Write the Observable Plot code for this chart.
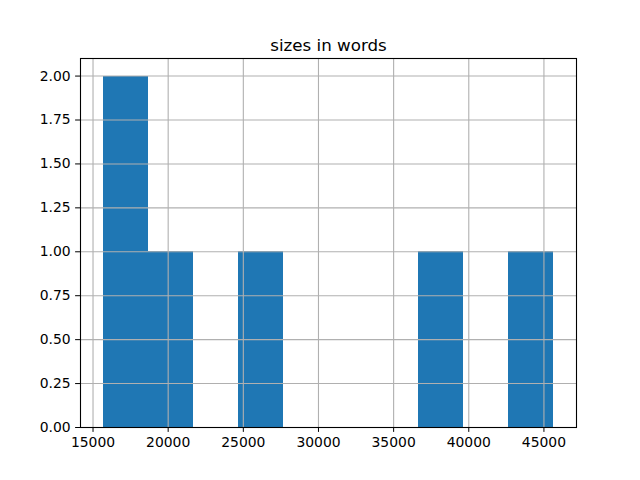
<!DOCTYPE html>
<html>
<head>
<meta charset="utf-8">
<script src="https://cdn.jsdelivr.net/npm/d3@7"></script>
<script src="https://cdn.jsdelivr.net/npm/@observablehq/plot@0.6"></script>
<style>
  body { margin: 0; background: #fff; }
  svg { font-family: "DejaVu Sans", sans-serif; }
</style>
</head>
<body>
<div id="chart"></div>
<script>
// Histogram bins (10 equal bins between min and max word count)
const binStarts = [15667, 18667, 21667, 24667, 27667, 30667, 33667, 36667, 39667, 42667];
const binEnds   = [18667, 21667, 24667, 27667, 30667, 33667, 36667, 39667, 42667, 45667];
const counts    = [2, 1, 0, 1, 0, 0, 0, 1, 0, 1];
const xTicks = [15000, 20000, 25000, 30000, 35000, 40000, 45000];
const yTicks = [0, 0.25, 0.5, 0.75, 1.0, 1.25, 1.5, 1.75, 2.0];
const title = "sizes in words";

const bins = binStarts.map((s, i) => ({x1: s, x2: binEnds[i], y: counts[i]}));
const lo = binStarts[0], hi = binEnds[binEnds.length - 1];
const pad = 0.05 * (hi - lo);

const chart = Plot.plot({
  width: 640,
  height: 480,
  marginLeft: 80,
  marginRight: 64,
  marginTop: 58,
  marginBottom: 53,
  style: {fontFamily: "DejaVu Sans, sans-serif", fontSize: "13.9px", color: "black", background: "white"},
  x: {domain: [lo - pad, hi + pad]},
  y: {domain: [0, 2.1]},
  marks: [
    Plot.rectY(bins.filter(d => d.y > 0), {x1: "x1", x2: "x2", y: "y", fill: "#1f77b4", inset: 0, shapeRendering: "crispEdges"}),
    Plot.gridX(xTicks, {stroke: "#b0b0b0", strokeOpacity: 1, strokeWidth: 1.1}),
    Plot.gridY(yTicks, {stroke: "#b0b0b0", strokeOpacity: 1, strokeWidth: 1.1}),
    Plot.axisX(xTicks, {tickSize: 4.9, tickPadding: 4.9, tickFormat: d3.format("d"), fontSize: 13.9, label: null, stroke: "black"}),
    Plot.axisY(yTicks, {tickSize: 4.9, tickPadding: 4.9, tickFormat: d3.format(".2f"), fontSize: 13.9, label: null, stroke: "black"}),
    Plot.frame({stroke: "black", strokeWidth: 1.1}),
    Plot.text([title], {frameAnchor: "top", dy: -8, fontSize: 16.7, fill: "black", lineAnchor: "bottom"})
  ]
});
document.getElementById("chart").appendChild(chart);
</script>
</body>
</html>
